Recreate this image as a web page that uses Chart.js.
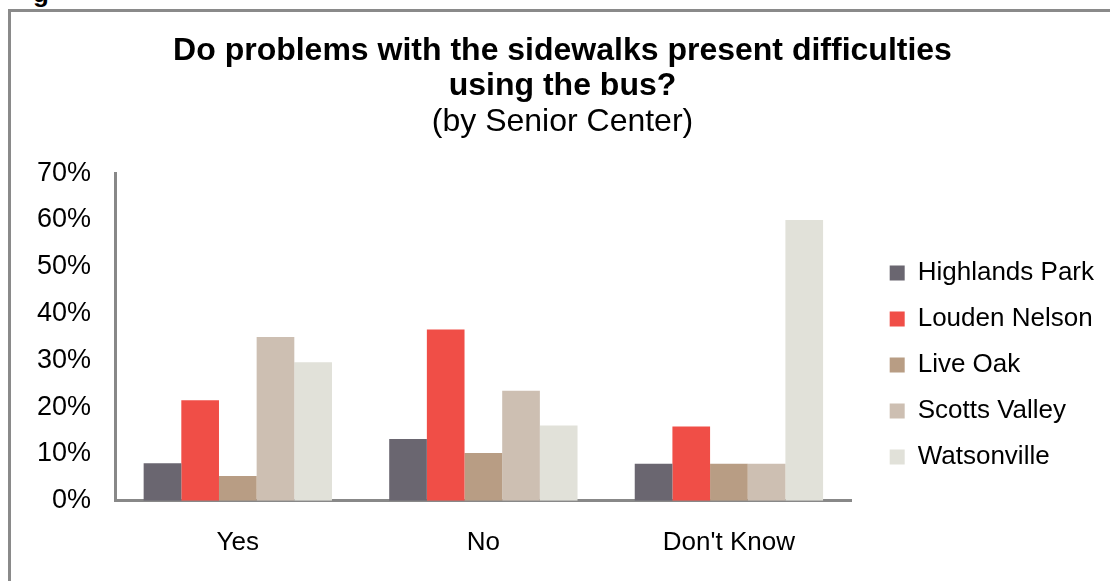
<!DOCTYPE html>
<html>
<head>
<meta charset="utf-8">
<script src="https://cdn.jsdelivr.net/npm/chart.js@4"></script>
<style>
  html, body { margin: 0; padding: 0; background: #fff; overflow: hidden; }
  body { width: 1110px; height: 581px; position: relative; font-family: "Liberation Sans", Arial, sans-serif; }
  #cut { position: absolute; left: 33px; top: -22px; font-size: 26px; font-weight: bold; color: #000; }
  #frame { position: absolute; left: 8px; top: 9px; width: 1099px; height: 572px;
           border-left: 3px solid #8a8a8a; border-top: 3px solid #8a8a8a; }
  #chart { display: block; }
</style>
</head>
<body>
<div id="cut">g</div>
<div id="frame"><canvas id="chart" width="1099" height="572"></canvas></div>
<script>
// Categories and series (percent)
const categories = ["Yes", "No", "Don't Know"];
const centers = ["Highlands Park", "Louden Nelson", "Live Oak", "Scotts Valley", "Watsonville"];
const highlandsPark = [8.0, 13.2, 7.9];
const loudenNelson = [21.5, 36.6, 15.9];
const liveOak = [5.3, 10.2, 7.9];
const scottsValley = [35.0, 23.5, 7.9];
const watsonville = [29.6, 16.1, 60.0];
const colors = ['#6a6670', '#f04e47', '#b89d84', '#cdbfb2', '#e1e1d9'];

const series = [highlandsPark, loudenNelson, liveOak, scottsValley, watsonville];
const font = "'Liberation Sans', Arial, sans-serif";

// nudge legend next to the plot and keep titles centred on the frame
const layoutTweak = {
  id: 'layoutTweak',
  afterLayout(chart) {
    const area = chart.chartArea;
    const lg = chart.legend;
    const w = lg.width;
    lg.left = area.right + 18;
    lg.right = lg.left + w;
    lg.top = area.top + 28;
    lg.bottom = area.bottom + 28;
    lg.height = lg.bottom - lg.top;
    chart.boxes.filter(b => b.position === 'top' && b !== lg).forEach(b => {
      b.left = 0;
      b.right = chart.width + 4;
      b.width = b.right - b.left;
    });
  }
};

const ctx = document.getElementById('chart').getContext('2d');
new Chart(ctx, {
  type: 'bar',
  data: {
    labels: categories,
    datasets: series.map((d, i) => ({
      label: centers[i],
      data: d,
      backgroundColor: colors[i],
      borderWidth: 0,
      categoryPercentage: 0.767,
      barPercentage: 1
    }))
  },
  options: {
    responsive: false,
    animation: false,
    layout: { padding: { left: 2, right: 24, bottom: 0 } },
    scales: {
      x: {
        grid: { display: false, drawTicks: false },
        border: { display: true, color: '#888', width: 3 },
        ticks: { color: '#000', font: { family: font, size: 26 }, padding: 26 }
      },
      y: {
        min: 0,
        max: 70,
        grid: { display: false, drawTicks: false },
        border: { display: true, color: '#888', width: 3 },
        ticks: {
          stepSize: 10,
          color: '#000',
          padding: 24,
          font: { family: font, size: 27 },
          callback: v => v + '%'
        }
      }
    },
    plugins: {
      legend: {
        position: 'right',
        labels: {
          color: '#000',
          boxWidth: 15,
          boxHeight: 15,
          padding: 20,
          font: { family: font, size: 26 }
        }
      },
      title: {
        display: true,
        text: ['Do problems with the sidewalks present difficulties', 'using the bus?'],
        color: '#000',
        font: { family: font, size: 32, weight: 'bold', lineHeight: 1.08 },
        padding: { top: 22, bottom: 1.5 }
      },
      subtitle: {
        display: true,
        text: '(by Senior Center)',
        color: '#000',
        font: { family: font, size: 32, lineHeight: 1.08 },
        padding: { top: 0, bottom: 34 }
      },
      tooltip: { enabled: false }
    }
  },
  plugins: [layoutTweak]
});
</script>
</body>
</html>
